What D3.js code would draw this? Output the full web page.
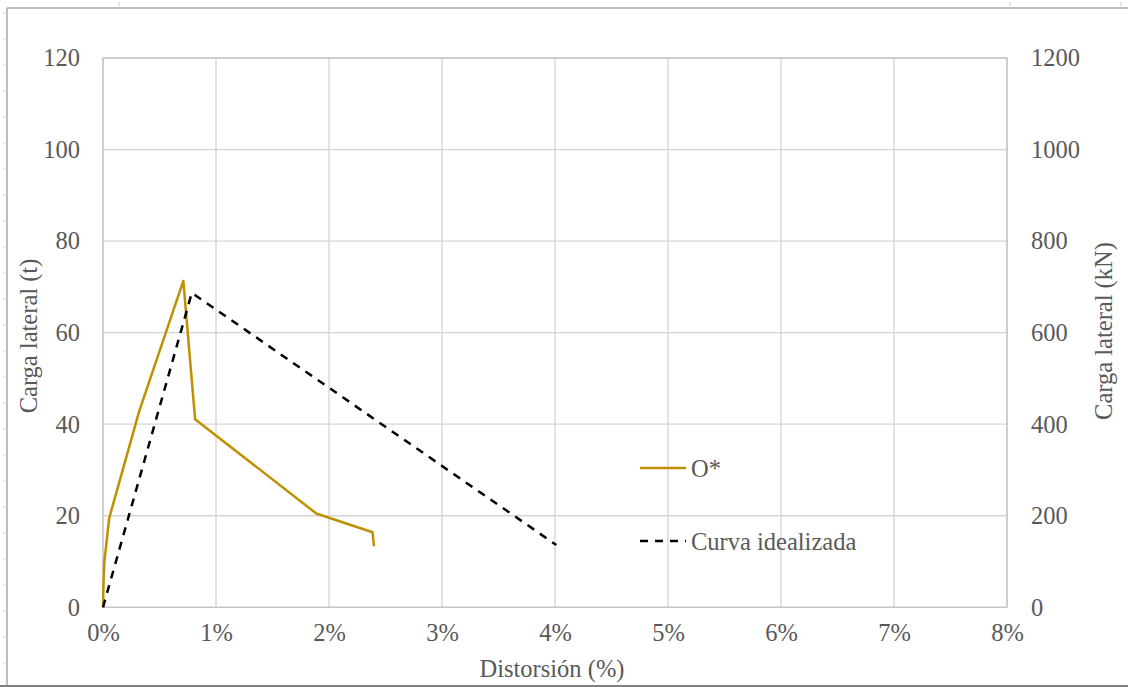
<!DOCTYPE html>
<html><head><meta charset="utf-8">
<script src="https://cdn.jsdelivr.net/npm/d3@7"></script>
<style>html,body{margin:0;padding:0;background:#fff;}svg{display:block;}</style>
</head><body>
<svg id="c" width="1128" height="687"></svg>
<script>
// ---- data ----
const oDrift = [0, 0.004, 0.012, 0.055, 0.32, 0.711, 0.815, 1.887, 2.385, 2.398];
const oLoad  = [0, 5, 10, 19.5, 42.8, 71.3, 41.1, 20.5, 16.4, 13.3];
const idealDrift = [0, 0.786, 4.012];
const idealLoad  = [0, 68.7, 13.6];
const xTicks = [0, 1, 2, 3, 4, 5, 6, 7, 8];
const yTicks = [0, 20, 40, 60, 80, 100, 120];
const y2Ticks = [0, 200, 400, 600, 800, 1000, 1200];
const seriesNames = ["O*", "Curva idealizada"];

const svg = d3.select("#c");
const W = 1128, H = 687;
const L = 103, R = 1007, T = 58, B = 607.3;
const font = "'Liberation Serif', 'Times New Roman', serif";
const txt = "#595959";

const x = d3.scaleLinear().domain([0, 8]).range([L, R]);
const y = d3.scaleLinear().domain([0, 120]).range([B, T]);
const y2 = d3.scaleLinear().domain([0, 1200]).range([B, T]);

// outer spreadsheet frame
const frame = svg.append("g");
frame.append("line").attr("x1", 7).attr("x2", 7).attr("y1", 8).attr("y2", 686).attr("stroke", "#a6a6a6").attr("stroke-width", 1.5);
frame.append("line").attr("x1", 7).attr("x2", W).attr("y1", 8).attr("y2", 8).attr("stroke", "#a6a6a6").attr("stroke-width", 1.5);
frame.append("line").attr("x1", 0).attr("x2", W).attr("y1", 686).attr("y2", 686).attr("stroke", "#7f7f7f").attr("stroke-width", 2);
d3.range(13, 686, 26).forEach(v => frame.append("line").attr("x1", 3).attr("x2", 7).attr("y1", v).attr("y2", v).attr("stroke", "#d0d0d0").attr("stroke-width", 1));
[119, 1010, 1121].forEach(v => frame.append("line").attr("x1", v).attr("x2", v).attr("y1", 2).attr("y2", 8).attr("stroke", "#d0d0d0").attr("stroke-width", 1));

// gridlines
const grid = svg.append("g");
grid.selectAll(".hg").data(yTicks).join("line")
  .attr("x1", L).attr("x2", R).attr("y1", d => y(d)).attr("y2", d => y(d))
  .attr("stroke", "#d4d4d4").attr("stroke-width", 1.3);
grid.selectAll(".vg").data(xTicks).join("line")
  .attr("x1", d => x(d)).attr("x2", d => x(d)).attr("y1", T).attr("y2", B)
  .attr("stroke", "#d4d4d4").attr("stroke-width", 1.3);
// plot border
grid.append("rect").attr("x", L).attr("y", T).attr("width", R - L).attr("height", B - T)
  .attr("fill", "none").attr("stroke", "#c4c4c4").attr("stroke-width", 1.3);

// axes using d3 axis generators (labels only)
const fs = "24.5px";
const yAxis = svg.append("g").attr("transform", `translate(${L},0)`)
  .call(d3.axisLeft(y).tickValues(yTicks).tickSize(0).tickPadding(23).tickFormat(d3.format("d")));
const y2Axis = svg.append("g").attr("transform", `translate(${R},0)`)
  .call(d3.axisRight(y2).tickValues(y2Ticks).tickSize(0).tickPadding(24).tickFormat(d3.format("d")));
const xAxis = svg.append("g").attr("transform", `translate(0,${B})`)
  .call(d3.axisBottom(x).tickValues(xTicks).tickSize(0).tickPadding(16).tickFormat(d => d + "%"));
[yAxis, y2Axis, xAxis].forEach(a => {
  a.select(".domain").remove();
  a.selectAll("text").attr("font-family", font).attr("font-size", fs).attr("fill", txt);
});

// axis titles
svg.append("text").attr("transform", `translate(37,336) rotate(-90)`).attr("text-anchor", "middle")
  .attr("font-family", font).attr("font-size", fs).attr("fill", txt).text("Carga lateral (t)");
svg.append("text").attr("transform", `translate(1112,331) rotate(-90)`).attr("text-anchor", "middle")
  .attr("font-family", font).attr("font-size", fs).attr("fill", txt).text("Carga lateral (kN)");
svg.append("text").attr("x", 552).attr("y", 677).attr("text-anchor", "middle")
  .attr("font-family", font).attr("font-size", fs).attr("fill", txt).text("Distorsión (%)");

// series
const line = d3.line().x(d => x(d[0])).y(d => y(d[1]));
const oData = oDrift.map((d, i) => [d, oLoad[i]]);
const iData = idealDrift.map((d, i) => [d, idealLoad[i]]);
svg.append("path").datum(oData).attr("d", line).attr("fill", "none")
  .attr("stroke", "#bf9000").attr("stroke-width", 2.5).attr("stroke-linejoin", "round");
svg.append("path").datum(iData).attr("d", line).attr("fill", "none")
  .attr("stroke", "#000").attr("stroke-width", 2.5).attr("stroke-dasharray", "8,7");

// legend
const lg = svg.append("g");
const items = [
  {name: seriesNames[0], color: "#bf9000", dash: null, y: 468},
  {name: seriesNames[1], color: "#000", dash: "8,7", y: 541}
];
items.forEach(it => {
  lg.append("line").attr("x1", 640).attr("x2", 686).attr("y1", it.y).attr("y2", it.y)
    .attr("stroke", it.color).attr("stroke-width", 2.5).attr("stroke-dasharray", it.dash);
  lg.append("text").attr("x", 691).attr("y", it.y).attr("dy", "0.35em")
    .attr("font-family", font).attr("font-size", fs).attr("fill", txt).text(it.name);
});
</script>
</body></html>
